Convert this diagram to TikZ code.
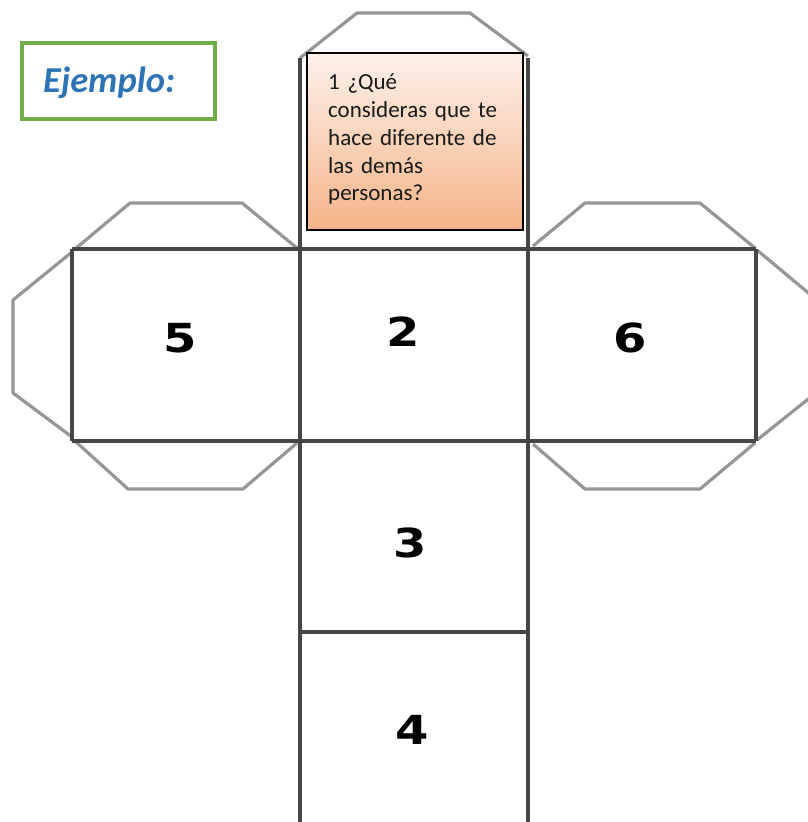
\documentclass[tikz,border=0pt]{standalone}
\usepackage{fontspec}
\setmainfont{Carlito}
\newfontfamily\numfont{DejaVu Sans}
\newcommand{\widedigit}[1]{\scalebox{1.2}[1]{#1}}
\begin{document}
\begin{tikzpicture}[x=1pt,y=-1pt,
  sqline/.style={draw={rgb,255:red,70;green,70;blue,70}, line width=3.6pt},
  flapline/.style={draw={rgb,255:red,150;green,150;blue,150}, line width=3.2pt, line join=round},
  numlabel/.style={font=\numfont\bfseries\fontsize{40}{44}\selectfont, text=black, inner sep=0pt},
]
\useasboundingbox (0,0) rectangle (807,822);
\fill[white] (0,0) rectangle (807,822);
% flaps
\draw[flapline] (300,58) -- (357,13) -- (470,13) -- (528,56);
\draw[flapline] (75,249) -- (130,203) -- (242,203) -- (297,248);
\draw[flapline] (75,441) -- (128,489) -- (243,489) -- (297,443);
\draw[flapline] (72,252) -- (13,300) -- (13,393) -- (72,437);
\draw[flapline] (533,246) -- (585,203) -- (700,203) -- (755,248);
\draw[flapline] (533,444) -- (585,489) -- (700,489) -- (755,443);
\draw[flapline] (757,250) -- (812,296);
\draw[flapline] (757,440) -- (812,396);
% squares
\draw[sqline] (300,58) -- (300,822);
\draw[sqline] (528,58) -- (528,822);
\draw[sqline] (72,249) -- (756,249);
\draw[sqline] (72,441) -- (756,441);
\draw[sqline] (72,249) -- (72,441);
\draw[sqline] (756,249) -- (756,441);
\draw[sqline] (300,632) -- (528,632);
% box 1
\shade[top color={rgb,255:red,253;green,241;blue,235}, bottom color={rgb,255:red,245;green,180;blue,136}]
  (307,53) rectangle (523,230);
\draw[black, line width=2.6pt] (307,53) rectangle (523,230);
\node[anchor=north west, align=left, inner sep=0pt, text width=195pt,
  font=\fontsize{23}{27.7}\selectfont, text={rgb,255:red,25;green,25;blue,25}] (q1) at (328,74)
  {1 ¿Qué\\consideras que te\\hace diferente de\\las demás\\personas?};
% Ejemplo
\draw[draw={rgb,255:red,112;green,173;blue,71}, line width=3.4pt] (22,43) rectangle (215,119);
\node[anchor=base west, inner sep=0pt, font=\bfseries\itshape\fontsize{36.5}{40}\selectfont,
  text={rgb,255:red,46;green,116;blue,181}] (ej) at (43,92) {Ejemplo:};
% numbers
\node[numlabel] (n5) at (180,338) {\widedigit{5}};
\node[numlabel] (n2) at (403,332) {\widedigit{2}};
\node[numlabel] (n6) at (630,338) {\widedigit{6}};
\node[numlabel] (n3) at (410,543) {\widedigit{3}};
\node[numlabel] (n4) at (412,730) {\widedigit{4}};
\end{tikzpicture}
\end{document}
